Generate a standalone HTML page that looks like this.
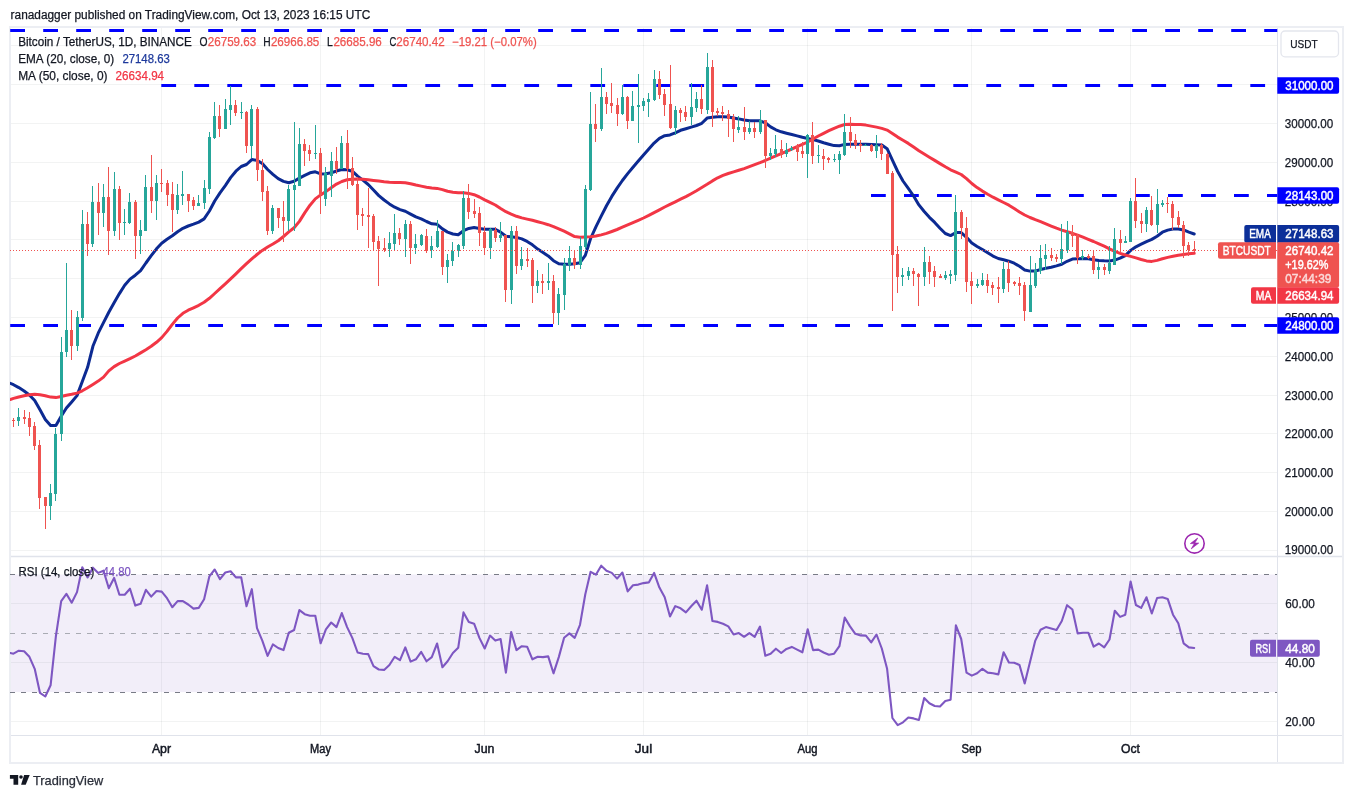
<!DOCTYPE html>
<html lang="en"><head><meta charset="utf-8"><title>BTCUSDT chart</title>
<style>
html,body{margin:0;padding:0;background:#fff;}
body{width:1353px;height:798px;overflow:hidden;font-family:"Liberation Sans",sans-serif;}
svg{display:block;will-change:transform}
text{font-family:"Liberation Sans",sans-serif;}
</style></head><body>
<svg width="1353" height="798" viewBox="0 0 1353 798">
<rect width="1353" height="798" fill="#ffffff"/>

<rect x="10" y="27" width="1333" height="736" fill="#fff" stroke="#eceef3" stroke-width="2"/>
<defs><clipPath id="main"><rect x="10" y="28" width="1267.5" height="528.5"/></clipPath><clipPath id="rsi"><rect x="10" y="556.5" width="1267.5" height="179.0"/></clipPath></defs>
<line x1="161.5" y1="28" x2="161.5" y2="735.5" stroke="#2a2e39" stroke-opacity="0.06" stroke-width="1"/>
<line x1="320.5" y1="28" x2="320.5" y2="735.5" stroke="#2a2e39" stroke-opacity="0.06" stroke-width="1"/>
<line x1="484.5" y1="28" x2="484.5" y2="735.5" stroke="#2a2e39" stroke-opacity="0.06" stroke-width="1"/>
<line x1="643.5" y1="28" x2="643.5" y2="735.5" stroke="#2a2e39" stroke-opacity="0.06" stroke-width="1"/>
<line x1="807.5" y1="28" x2="807.5" y2="735.5" stroke="#2a2e39" stroke-opacity="0.06" stroke-width="1"/>
<line x1="971.5" y1="28" x2="971.5" y2="735.5" stroke="#2a2e39" stroke-opacity="0.06" stroke-width="1"/>
<line x1="1130.5" y1="28" x2="1130.5" y2="735.5" stroke="#2a2e39" stroke-opacity="0.06" stroke-width="1"/>
<line x1="11" y1="550.5" x2="1277.5" y2="550.5" stroke="#2a2e39" stroke-opacity="0.06" stroke-width="1"/>
<line x1="11" y1="511.5" x2="1277.5" y2="511.5" stroke="#2a2e39" stroke-opacity="0.06" stroke-width="1"/>
<line x1="11" y1="472.5" x2="1277.5" y2="472.5" stroke="#2a2e39" stroke-opacity="0.06" stroke-width="1"/>
<line x1="11" y1="433.5" x2="1277.5" y2="433.5" stroke="#2a2e39" stroke-opacity="0.06" stroke-width="1"/>
<line x1="11" y1="395.5" x2="1277.5" y2="395.5" stroke="#2a2e39" stroke-opacity="0.06" stroke-width="1"/>
<line x1="11" y1="356.5" x2="1277.5" y2="356.5" stroke="#2a2e39" stroke-opacity="0.06" stroke-width="1"/>
<line x1="11" y1="317.5" x2="1277.5" y2="317.5" stroke="#2a2e39" stroke-opacity="0.06" stroke-width="1"/>
<line x1="11" y1="278.5" x2="1277.5" y2="278.5" stroke="#2a2e39" stroke-opacity="0.06" stroke-width="1"/>
<line x1="11" y1="239.5" x2="1277.5" y2="239.5" stroke="#2a2e39" stroke-opacity="0.06" stroke-width="1"/>
<line x1="11" y1="201.5" x2="1277.5" y2="201.5" stroke="#2a2e39" stroke-opacity="0.06" stroke-width="1"/>
<line x1="11" y1="162.5" x2="1277.5" y2="162.5" stroke="#2a2e39" stroke-opacity="0.06" stroke-width="1"/>
<line x1="11" y1="123.5" x2="1277.5" y2="123.5" stroke="#2a2e39" stroke-opacity="0.06" stroke-width="1"/>
<line x1="11" y1="84.5" x2="1277.5" y2="84.5" stroke="#2a2e39" stroke-opacity="0.06" stroke-width="1"/>
<line x1="11" y1="45.5" x2="1277.5" y2="45.5" stroke="#2a2e39" stroke-opacity="0.06" stroke-width="1"/>
<rect x="11" y="574.5" width="1266.5" height="117.6" fill="#7e57c2" fill-opacity="0.1"/>
<line x1="11" y1="603.5" x2="1277.5" y2="603.5" stroke="#2a2e39" stroke-opacity="0.06" stroke-width="1"/>
<line x1="11" y1="662.5" x2="1277.5" y2="662.5" stroke="#2a2e39" stroke-opacity="0.06" stroke-width="1"/>
<line x1="11" y1="721.5" x2="1277.5" y2="721.5" stroke="#2a2e39" stroke-opacity="0.06" stroke-width="1"/>
<line x1="10" y1="574.5" x2="1277.5" y2="574.5" stroke="#787b86" stroke-width="1" stroke-dasharray="5 6"/>
<line x1="10" y1="633.5" x2="1277.5" y2="633.5" stroke="#a9abb3" stroke-width="1" stroke-dasharray="5 6"/>
<line x1="10" y1="692.5" x2="1277.5" y2="692.5" stroke="#787b86" stroke-width="1" stroke-dasharray="5 6"/>
<line x1="11" y1="556.5" x2="1342" y2="556.5" stroke="#e0e3eb" stroke-width="1.5"/>
<line x1="11" y1="735.5" x2="1342" y2="735.5" stroke="#e0e3eb" stroke-width="1"/>
<line x1="1277.5" y1="28" x2="1277.5" y2="762" stroke="#e0e3eb" stroke-width="1"/>
<g clip-path="url(#main)">
<line x1="10.2" y1="30.5" x2="1277.5" y2="30.5" stroke="#0000ff" stroke-width="3" stroke-dasharray="14.8 18.2"/>
<line x1="161.3" y1="85.5" x2="1277.5" y2="85.5" stroke="#0000ff" stroke-width="3" stroke-dasharray="14.8 18.2"/>
<line x1="871" y1="195.5" x2="1277.5" y2="195.5" stroke="#0000ff" stroke-width="3" stroke-dasharray="14.8 18.2"/>
<line x1="10.2" y1="325.5" x2="1277.5" y2="325.5" stroke="#0000ff" stroke-width="3" stroke-dasharray="14.8 18.2"/>
<polyline points="10.2,383.3 13.5,384.7 18.8,387.6 24.1,391.0 29.4,395.0 34.7,400.5 40.0,409.8 45.3,419.5 50.6,425.6 55.9,425.5 61.2,416.2 66.4,408.0 71.7,401.9 77.0,395.6 82.3,381.5 87.6,367.3 92.9,346.3 98.2,333.2 103.5,322.6 108.8,312.2 114.1,302.7 119.4,293.6 124.7,285.3 130.0,279.1 135.3,275.2 140.6,270.7 145.9,263.0 151.2,255.7 156.5,248.8 161.7,243.2 167.0,239.3 172.3,235.8 177.6,231.8 182.9,228.3 188.2,226.0 193.5,224.2 198.8,222.1 204.1,218.9 209.4,211.0 214.7,201.0 220.0,192.9 225.3,185.6 230.6,177.6 235.9,171.2 241.2,166.5 246.5,164.5 251.8,159.6 257.0,160.3 262.3,163.6 267.6,169.5 272.9,174.4 278.2,178.7 283.5,181.4 288.8,182.7 294.1,181.3 299.4,178.1 304.7,175.3 310.0,172.8 315.3,171.8 320.6,173.9 325.9,173.7 331.2,172.8 336.5,171.0 341.8,169.5 347.1,169.7 352.3,171.2 357.6,176.1 362.9,180.1 368.2,184.5 373.5,190.0 378.8,195.6 384.1,200.0 389.4,203.9 394.7,207.2 400.0,209.6 405.3,211.2 410.6,214.1 415.9,216.9 421.2,218.8 426.5,221.5 431.8,223.8 437.1,224.3 442.4,228.9 447.6,232.1 452.9,234.0 458.2,234.8 463.5,230.7 468.8,228.4 474.1,227.5 479.4,228.5 484.7,229.3 490.0,229.3 495.3,229.3 500.6,232.1 505.9,236.2 511.2,236.8 516.5,237.4 521.8,238.9 527.1,241.4 532.4,244.8 537.7,249.1 543.0,252.6 548.2,255.9 553.5,260.7 558.8,263.8 564.1,264.2 569.4,264.3 574.7,263.8 580.0,262.7 585.3,255.4 590.6,238.5 595.9,226.9 601.2,216.2 606.5,205.8 611.8,196.4 617.1,188.1 622.4,180.5 627.7,173.6 633.0,167.2 638.3,161.0 643.5,155.1 648.8,149.0 654.1,143.1 659.4,138.4 664.7,135.7 670.0,134.9 675.3,132.8 680.6,130.3 685.9,128.7 691.2,127.1 696.5,125.5 701.8,123.3 707.1,118.1 712.4,117.3 717.7,116.8 723.0,116.7 728.3,117.1 733.6,118.0 738.8,118.9 744.1,120.0 749.4,120.8 754.7,120.8 760.0,120.8 765.3,122.8 770.6,126.9 775.9,129.8 781.2,131.8 786.5,133.2 791.8,134.5 797.1,135.9 802.4,137.3 807.7,138.5 813.0,139.6 818.3,141.0 823.6,142.7 828.9,144.2 834.1,145.6 839.4,145.8 844.7,144.4 850.0,144.2 855.3,144.2 860.6,144.2 865.9,144.3 871.2,144.5 876.5,144.7 881.8,145.1 887.1,148.7 892.4,160.2 897.7,171.5 903.0,181.0 908.3,188.4 913.6,196.0 918.9,204.9 924.2,211.5 929.4,217.3 934.7,222.4 940.0,228.2 945.3,233.5 950.6,235.6 955.9,232.6 961.2,232.6 966.5,237.3 971.8,243.1 977.1,246.5 982.4,249.5 987.7,252.8 993.0,256.1 998.3,258.5 1003.6,259.8 1008.9,261.2 1014.2,263.2 1019.5,266.3 1024.7,270.0 1030.0,271.1 1035.3,271.1 1040.6,269.5 1045.9,268.3 1051.2,267.3 1056.5,265.9 1061.8,264.2 1067.1,261.3 1072.4,259.1 1077.7,258.7 1083.0,258.5 1088.3,258.8 1093.6,259.8 1098.9,260.4 1104.2,260.8 1109.5,260.9 1114.8,260.1 1120.1,258.2 1125.3,255.6 1130.6,250.4 1135.9,246.8 1141.2,244.2 1146.5,241.7 1151.8,239.4 1157.1,236.2 1162.4,232.2 1167.7,230.1 1173.0,229.0 1178.3,229.1 1183.6,229.9 1188.9,232.2 1194.2,234.0" fill="none" stroke="#0c2a92" stroke-width="3" stroke-linejoin="round" stroke-linecap="round"/>
<polyline points="10.2,399.5 13.5,398.4 18.8,397.0 24.1,395.8 29.4,394.7 34.7,394.3 40.0,394.8 45.3,395.7 50.6,397.1 55.9,397.6 61.2,396.5 66.4,395.2 71.7,394.3 77.0,393.1 82.3,390.8 87.6,387.7 92.9,384.4 98.2,381.1 103.5,377.1 108.8,370.9 114.1,366.6 119.4,363.5 124.7,361.1 130.0,358.7 135.3,356.0 140.6,352.9 145.9,349.7 151.2,346.3 156.5,342.3 161.7,337.6 167.0,331.4 172.3,324.4 177.6,318.0 182.9,313.3 188.2,310.2 193.5,307.8 198.8,305.3 204.1,302.3 209.4,298.3 214.7,293.5 220.0,288.7 225.3,283.9 230.6,278.9 235.9,273.8 241.2,268.7 246.5,263.7 251.8,258.9 257.0,254.5 262.3,250.4 267.6,247.0 272.9,244.0 278.2,240.7 283.5,236.5 288.8,231.9 294.1,227.8 299.4,221.4 304.7,212.9 310.0,205.2 315.3,198.9 320.6,194.9 325.9,191.6 331.2,187.8 336.5,184.1 341.8,181.5 347.1,179.8 352.3,179.2 357.6,179.0 362.9,179.3 368.2,179.8 373.5,180.4 378.8,181.1 384.1,181.8 389.4,182.3 394.7,182.4 400.0,182.5 405.3,182.7 410.6,183.7 415.9,185.0 421.2,186.1 426.5,187.2 431.8,187.9 437.1,188.4 442.4,189.6 447.6,191.3 452.9,192.2 458.2,192.7 463.5,192.8 468.8,193.4 474.1,194.7 479.4,197.0 484.7,199.8 490.0,202.4 495.3,205.0 500.6,208.5 505.9,211.7 511.2,214.2 516.5,216.3 521.8,217.9 527.1,219.1 532.4,220.3 537.7,221.7 543.0,223.1 548.2,224.7 553.5,226.6 558.8,228.8 564.1,231.2 569.4,233.8 574.7,236.6 580.0,237.2 585.3,237.0 590.6,236.7 595.9,236.0 601.2,234.9 606.5,233.4 611.8,231.5 617.1,229.5 622.4,227.2 627.7,224.9 633.0,222.6 638.3,220.3 643.5,218.0 648.8,215.4 654.1,212.6 659.4,209.8 664.7,207.0 670.0,204.4 675.3,201.8 680.6,199.2 685.9,196.6 691.2,193.7 696.5,190.7 701.8,187.5 707.1,184.3 712.4,180.9 717.7,177.8 723.0,175.4 728.3,173.5 733.6,171.9 738.8,170.3 744.1,168.6 749.4,166.7 754.7,164.7 760.0,162.7 765.3,160.5 770.6,158.1 775.9,155.9 781.2,153.6 786.5,151.3 791.8,149.0 797.1,146.7 802.4,144.4 807.7,142.0 813.0,139.0 818.3,136.0 823.6,133.3 828.9,130.7 834.1,128.3 839.4,126.2 844.7,124.5 850.0,124.3 855.3,124.4 860.6,124.5 865.9,125.1 871.2,126.1 876.5,127.1 881.8,128.4 887.1,130.1 892.4,133.4 897.7,137.1 903.0,140.2 908.3,143.4 913.6,147.1 918.9,150.8 924.2,154.1 929.4,157.2 934.7,160.4 940.0,163.6 945.3,166.8 950.6,169.8 955.9,172.1 961.2,174.5 966.5,178.6 971.8,183.5 977.1,187.6 982.4,191.1 987.7,194.3 993.0,197.2 998.3,199.9 1003.6,202.5 1008.9,205.2 1014.2,208.5 1019.5,212.0 1024.7,215.0 1030.0,217.5 1035.3,219.7 1040.6,221.7 1045.9,223.9 1051.2,226.1 1056.5,228.2 1061.8,230.1 1067.1,231.7 1072.4,233.3 1077.7,235.2 1083.0,237.2 1088.3,239.3 1093.6,241.5 1098.9,243.9 1104.2,246.2 1109.5,248.9 1114.8,251.4 1120.1,253.4 1125.3,255.0 1130.6,256.4 1135.9,257.9 1141.2,259.5 1146.5,260.9 1151.8,261.4 1157.1,260.4 1162.4,258.8 1167.7,257.4 1173.0,256.2 1178.3,255.2 1183.6,254.5 1188.9,253.8 1194.2,253.3" fill="none" stroke="#f23645" stroke-width="3" stroke-linejoin="round" stroke-linecap="round"/>
<rect x="13" y="418" width="1" height="9" fill="#ef5350"/><rect x="12" y="420" width="3" height="1" fill="#ef5350"/>
<rect x="18" y="408" width="1" height="18" fill="#26a69a"/><rect x="17" y="417" width="3" height="4" fill="#26a69a"/>
<rect x="24" y="410" width="1" height="14" fill="#ef5350"/><rect x="23" y="417" width="3" height="2" fill="#ef5350"/>
<rect x="29" y="412" width="1" height="24" fill="#ef5350"/><rect x="28" y="418" width="3" height="9" fill="#ef5350"/>
<rect x="34" y="422" width="1" height="28" fill="#ef5350"/><rect x="33" y="426" width="3" height="20" fill="#ef5350"/>
<rect x="39" y="440" width="1" height="69" fill="#ef5350"/><rect x="38" y="445" width="3" height="53" fill="#ef5350"/>
<rect x="45" y="497" width="1" height="32" fill="#ef5350"/><rect x="44" y="497" width="3" height="9" fill="#ef5350"/>
<rect x="50" y="484" width="1" height="36" fill="#26a69a"/><rect x="49" y="493" width="3" height="13" fill="#26a69a"/>
<rect x="55" y="428" width="1" height="73" fill="#26a69a"/><rect x="54" y="434" width="3" height="60" fill="#26a69a"/>
<rect x="61" y="337" width="1" height="104" fill="#26a69a"/><rect x="60" y="352" width="3" height="82" fill="#26a69a"/>
<rect x="66" y="263" width="1" height="94" fill="#26a69a"/><rect x="65" y="330" width="3" height="22" fill="#26a69a"/>
<rect x="71" y="310" width="1" height="50" fill="#ef5350"/><rect x="70" y="330" width="3" height="16" fill="#ef5350"/>
<rect x="77" y="311" width="1" height="40" fill="#26a69a"/><rect x="76" y="317" width="3" height="29" fill="#26a69a"/>
<rect x="82" y="210" width="1" height="111" fill="#26a69a"/><rect x="81" y="224" width="3" height="94" fill="#26a69a"/>
<rect x="87" y="212" width="1" height="44" fill="#ef5350"/><rect x="86" y="224" width="3" height="20" fill="#ef5350"/>
<rect x="92" y="186" width="1" height="61" fill="#26a69a"/><rect x="91" y="202" width="3" height="42" fill="#26a69a"/>
<rect x="98" y="183" width="1" height="52" fill="#ef5350"/><rect x="97" y="202" width="3" height="11" fill="#ef5350"/>
<rect x="103" y="184" width="1" height="43" fill="#26a69a"/><rect x="102" y="197" width="3" height="16" fill="#26a69a"/>
<rect x="108" y="167" width="1" height="88" fill="#ef5350"/><rect x="107" y="197" width="3" height="34" fill="#ef5350"/>
<rect x="114" y="172" width="1" height="64" fill="#26a69a"/><rect x="113" y="189" width="3" height="42" fill="#26a69a"/>
<rect x="119" y="186" width="1" height="54" fill="#ef5350"/><rect x="118" y="189" width="3" height="34" fill="#ef5350"/>
<rect x="124" y="209" width="1" height="26" fill="#26a69a"/><rect x="123" y="222" width="3" height="1" fill="#26a69a"/>
<rect x="129" y="193" width="1" height="31" fill="#26a69a"/><rect x="128" y="202" width="3" height="21" fill="#26a69a"/>
<rect x="135" y="200" width="1" height="59" fill="#ef5350"/><rect x="134" y="202" width="3" height="34" fill="#ef5350"/>
<rect x="140" y="220" width="1" height="34" fill="#26a69a"/><rect x="139" y="230" width="3" height="6" fill="#26a69a"/>
<rect x="145" y="175" width="1" height="56" fill="#26a69a"/><rect x="144" y="187" width="3" height="44" fill="#26a69a"/>
<rect x="151" y="155" width="1" height="58" fill="#ef5350"/><rect x="150" y="187" width="3" height="14" fill="#ef5350"/>
<rect x="156" y="175" width="1" height="45" fill="#26a69a"/><rect x="155" y="183" width="3" height="18" fill="#26a69a"/>
<rect x="161" y="169" width="1" height="23" fill="#ef5350"/><rect x="160" y="183" width="3" height="1" fill="#ef5350"/>
<rect x="167" y="180" width="1" height="26" fill="#ef5350"/><rect x="166" y="183" width="3" height="12" fill="#ef5350"/>
<rect x="172" y="182" width="1" height="50" fill="#ef5350"/><rect x="171" y="194" width="3" height="16" fill="#ef5350"/>
<rect x="177" y="184" width="1" height="30" fill="#26a69a"/><rect x="176" y="195" width="3" height="15" fill="#26a69a"/>
<rect x="182" y="171" width="1" height="34" fill="#26a69a"/><rect x="181" y="194" width="3" height="2" fill="#26a69a"/>
<rect x="188" y="194" width="1" height="18" fill="#ef5350"/><rect x="187" y="194" width="3" height="7" fill="#ef5350"/>
<rect x="193" y="197" width="1" height="13" fill="#ef5350"/><rect x="192" y="200" width="3" height="6" fill="#ef5350"/>
<rect x="198" y="195" width="1" height="11" fill="#26a69a"/><rect x="197" y="203" width="3" height="3" fill="#26a69a"/>
<rect x="204" y="180" width="1" height="29" fill="#26a69a"/><rect x="203" y="188" width="3" height="15" fill="#26a69a"/>
<rect x="209" y="132" width="1" height="62" fill="#26a69a"/><rect x="208" y="137" width="3" height="52" fill="#26a69a"/>
<rect x="214" y="102" width="1" height="37" fill="#26a69a"/><rect x="213" y="116" width="3" height="22" fill="#26a69a"/>
<rect x="219" y="105" width="1" height="32" fill="#ef5350"/><rect x="218" y="116" width="3" height="13" fill="#ef5350"/>
<rect x="225" y="99" width="1" height="30" fill="#26a69a"/><rect x="224" y="109" width="3" height="20" fill="#26a69a"/>
<rect x="230" y="86" width="1" height="39" fill="#26a69a"/><rect x="229" y="105" width="3" height="5" fill="#26a69a"/>
<rect x="235" y="100" width="1" height="16" fill="#ef5350"/><rect x="234" y="105" width="3" height="8" fill="#ef5350"/>
<rect x="241" y="102" width="1" height="17" fill="#26a69a"/><rect x="240" y="112" width="3" height="1" fill="#26a69a"/>
<rect x="246" y="111" width="1" height="42" fill="#ef5350"/><rect x="245" y="112" width="3" height="34" fill="#ef5350"/>
<rect x="251" y="105" width="1" height="53" fill="#26a69a"/><rect x="250" y="109" width="3" height="37" fill="#26a69a"/>
<rect x="257" y="107" width="1" height="74" fill="#ef5350"/><rect x="256" y="109" width="3" height="61" fill="#ef5350"/>
<rect x="262" y="159" width="1" height="42" fill="#ef5350"/><rect x="261" y="170" width="3" height="22" fill="#ef5350"/>
<rect x="267" y="186" width="1" height="49" fill="#ef5350"/><rect x="266" y="191" width="3" height="40" fill="#ef5350"/>
<rect x="272" y="205" width="1" height="29" fill="#26a69a"/><rect x="271" y="208" width="3" height="23" fill="#26a69a"/>
<rect x="278" y="208" width="1" height="20" fill="#ef5350"/><rect x="277" y="208" width="3" height="10" fill="#ef5350"/>
<rect x="283" y="201" width="1" height="41" fill="#ef5350"/><rect x="282" y="217" width="3" height="4" fill="#ef5350"/>
<rect x="288" y="185" width="1" height="46" fill="#26a69a"/><rect x="287" y="189" width="3" height="32" fill="#26a69a"/>
<rect x="294" y="122" width="1" height="109" fill="#26a69a"/><rect x="293" y="185" width="3" height="5" fill="#26a69a"/>
<rect x="299" y="128" width="1" height="58" fill="#26a69a"/><rect x="298" y="144" width="3" height="42" fill="#26a69a"/>
<rect x="304" y="139" width="1" height="27" fill="#ef5350"/><rect x="303" y="144" width="3" height="7" fill="#ef5350"/>
<rect x="309" y="145" width="1" height="16" fill="#ef5350"/><rect x="308" y="150" width="3" height="4" fill="#ef5350"/>
<rect x="315" y="125" width="1" height="34" fill="#26a69a"/><rect x="314" y="153" width="3" height="1" fill="#26a69a"/>
<rect x="320" y="148" width="1" height="66" fill="#ef5350"/><rect x="319" y="153" width="3" height="42" fill="#ef5350"/>
<rect x="325" y="167" width="1" height="39" fill="#26a69a"/><rect x="324" y="173" width="3" height="26" fill="#26a69a"/>
<rect x="331" y="152" width="1" height="45" fill="#26a69a"/><rect x="330" y="161" width="3" height="15" fill="#26a69a"/>
<rect x="336" y="147" width="1" height="27" fill="#ef5350"/><rect x="335" y="161" width="3" height="8" fill="#ef5350"/>
<rect x="341" y="136" width="1" height="33" fill="#26a69a"/><rect x="340" y="143" width="3" height="26" fill="#26a69a"/>
<rect x="347" y="130" width="1" height="59" fill="#ef5350"/><rect x="346" y="143" width="3" height="26" fill="#ef5350"/>
<rect x="352" y="157" width="1" height="29" fill="#ef5350"/><rect x="351" y="168" width="3" height="17" fill="#ef5350"/>
<rect x="357" y="177" width="1" height="53" fill="#ef5350"/><rect x="356" y="184" width="3" height="31" fill="#ef5350"/>
<rect x="362" y="208" width="1" height="18" fill="#ef5350"/><rect x="361" y="214" width="3" height="2" fill="#ef5350"/>
<rect x="368" y="188" width="1" height="60" fill="#ef5350"/><rect x="367" y="215" width="3" height="2" fill="#ef5350"/>
<rect x="373" y="214" width="1" height="36" fill="#ef5350"/><rect x="372" y="216" width="3" height="26" fill="#ef5350"/>
<rect x="378" y="236" width="1" height="50" fill="#ef5350"/><rect x="377" y="241" width="3" height="8" fill="#ef5350"/>
<rect x="384" y="238" width="1" height="14" fill="#ef5350"/><rect x="383" y="248" width="3" height="2" fill="#ef5350"/>
<rect x="389" y="232" width="1" height="25" fill="#26a69a"/><rect x="388" y="243" width="3" height="6" fill="#26a69a"/>
<rect x="394" y="214" width="1" height="37" fill="#26a69a"/><rect x="393" y="233" width="3" height="11" fill="#26a69a"/>
<rect x="399" y="228" width="1" height="17" fill="#ef5350"/><rect x="398" y="233" width="3" height="6" fill="#ef5350"/>
<rect x="405" y="220" width="1" height="37" fill="#26a69a"/><rect x="404" y="224" width="3" height="15" fill="#26a69a"/>
<rect x="410" y="221" width="1" height="43" fill="#ef5350"/><rect x="409" y="224" width="3" height="24" fill="#ef5350"/>
<rect x="415" y="234" width="1" height="20" fill="#26a69a"/><rect x="414" y="244" width="3" height="4" fill="#26a69a"/>
<rect x="421" y="234" width="1" height="12" fill="#26a69a"/><rect x="420" y="235" width="3" height="10" fill="#26a69a"/>
<rect x="426" y="229" width="1" height="24" fill="#ef5350"/><rect x="425" y="236" width="3" height="15" fill="#ef5350"/>
<rect x="431" y="236" width="1" height="22" fill="#26a69a"/><rect x="430" y="246" width="3" height="4" fill="#26a69a"/>
<rect x="437" y="220" width="1" height="28" fill="#26a69a"/><rect x="436" y="231" width="3" height="16" fill="#26a69a"/>
<rect x="442" y="231" width="1" height="44" fill="#ef5350"/><rect x="441" y="231" width="3" height="36" fill="#ef5350"/>
<rect x="447" y="254" width="1" height="29" fill="#26a69a"/><rect x="446" y="260" width="3" height="7" fill="#26a69a"/>
<rect x="452" y="242" width="1" height="24" fill="#26a69a"/><rect x="451" y="251" width="3" height="10" fill="#26a69a"/>
<rect x="458" y="244" width="1" height="13" fill="#26a69a"/><rect x="457" y="245" width="3" height="6" fill="#26a69a"/>
<rect x="463" y="191" width="1" height="58" fill="#26a69a"/><rect x="462" y="198" width="3" height="48" fill="#26a69a"/>
<rect x="468" y="184" width="1" height="35" fill="#ef5350"/><rect x="467" y="198" width="3" height="14" fill="#ef5350"/>
<rect x="474" y="199" width="1" height="19" fill="#ef5350"/><rect x="473" y="211" width="3" height="3" fill="#ef5350"/>
<rect x="479" y="207" width="1" height="39" fill="#ef5350"/><rect x="478" y="213" width="3" height="20" fill="#ef5350"/>
<rect x="484" y="226" width="1" height="29" fill="#ef5350"/><rect x="483" y="232" width="3" height="16" fill="#ef5350"/>
<rect x="490" y="228" width="1" height="31" fill="#26a69a"/><rect x="489" y="229" width="3" height="19" fill="#26a69a"/>
<rect x="495" y="227" width="1" height="15" fill="#ef5350"/><rect x="494" y="230" width="3" height="8" fill="#ef5350"/>
<rect x="500" y="222" width="1" height="20" fill="#26a69a"/><rect x="499" y="235" width="3" height="3" fill="#26a69a"/>
<rect x="505" y="235" width="1" height="67" fill="#ef5350"/><rect x="504" y="235" width="3" height="55" fill="#ef5350"/>
<rect x="511" y="226" width="1" height="78" fill="#26a69a"/><rect x="510" y="231" width="3" height="59" fill="#26a69a"/>
<rect x="516" y="226" width="1" height="48" fill="#ef5350"/><rect x="515" y="231" width="3" height="35" fill="#ef5350"/>
<rect x="521" y="247" width="1" height="23" fill="#26a69a"/><rect x="520" y="259" width="3" height="7" fill="#26a69a"/>
<rect x="527" y="248" width="1" height="19" fill="#ef5350"/><rect x="526" y="259" width="3" height="2" fill="#ef5350"/>
<rect x="532" y="258" width="1" height="45" fill="#ef5350"/><rect x="531" y="260" width="3" height="26" fill="#ef5350"/>
<rect x="537" y="270" width="1" height="23" fill="#26a69a"/><rect x="536" y="281" width="3" height="5" fill="#26a69a"/>
<rect x="542" y="274" width="1" height="20" fill="#ef5350"/><rect x="541" y="281" width="3" height="2" fill="#ef5350"/>
<rect x="548" y="263" width="1" height="27" fill="#26a69a"/><rect x="547" y="281" width="3" height="2" fill="#26a69a"/>
<rect x="553" y="275" width="1" height="49" fill="#ef5350"/><rect x="552" y="281" width="3" height="32" fill="#ef5350"/>
<rect x="558" y="288" width="1" height="37" fill="#26a69a"/><rect x="557" y="294" width="3" height="19" fill="#26a69a"/>
<rect x="564" y="258" width="1" height="52" fill="#26a69a"/><rect x="563" y="264" width="3" height="31" fill="#26a69a"/>
<rect x="569" y="246" width="1" height="25" fill="#26a69a"/><rect x="568" y="258" width="3" height="7" fill="#26a69a"/>
<rect x="574" y="250" width="1" height="19" fill="#ef5350"/><rect x="573" y="258" width="3" height="7" fill="#ef5350"/>
<rect x="580" y="237" width="1" height="32" fill="#26a69a"/><rect x="579" y="246" width="3" height="19" fill="#26a69a"/>
<rect x="585" y="185" width="1" height="64" fill="#26a69a"/><rect x="584" y="189" width="3" height="58" fill="#26a69a"/>
<rect x="590" y="92" width="1" height="99" fill="#26a69a"/><rect x="589" y="124" width="3" height="66" fill="#26a69a"/>
<rect x="595" y="104" width="1" height="38" fill="#ef5350"/><rect x="594" y="124" width="3" height="5" fill="#ef5350"/>
<rect x="601" y="68" width="1" height="63" fill="#26a69a"/><rect x="600" y="97" width="3" height="32" fill="#26a69a"/>
<rect x="606" y="92" width="1" height="22" fill="#ef5350"/><rect x="605" y="97" width="3" height="7" fill="#ef5350"/>
<rect x="611" y="83" width="1" height="30" fill="#ef5350"/><rect x="610" y="103" width="3" height="3" fill="#ef5350"/>
<rect x="617" y="98" width="1" height="28" fill="#ef5350"/><rect x="616" y="105" width="3" height="9" fill="#ef5350"/>
<rect x="622" y="85" width="1" height="30" fill="#26a69a"/><rect x="621" y="97" width="3" height="17" fill="#26a69a"/>
<rect x="627" y="96" width="1" height="33" fill="#ef5350"/><rect x="626" y="97" width="3" height="24" fill="#ef5350"/>
<rect x="632" y="91" width="1" height="30" fill="#26a69a"/><rect x="631" y="106" width="3" height="15" fill="#26a69a"/>
<rect x="638" y="74" width="1" height="69" fill="#26a69a"/><rect x="637" y="105" width="3" height="2" fill="#26a69a"/>
<rect x="643" y="98" width="1" height="13" fill="#26a69a"/><rect x="642" y="101" width="3" height="5" fill="#26a69a"/>
<rect x="648" y="93" width="1" height="24" fill="#26a69a"/><rect x="647" y="99" width="3" height="3" fill="#26a69a"/>
<rect x="654" y="70" width="1" height="31" fill="#26a69a"/><rect x="653" y="79" width="3" height="21" fill="#26a69a"/>
<rect x="659" y="71" width="1" height="28" fill="#ef5350"/><rect x="658" y="79" width="3" height="16" fill="#ef5350"/>
<rect x="664" y="89" width="1" height="27" fill="#ef5350"/><rect x="663" y="94" width="3" height="11" fill="#ef5350"/>
<rect x="670" y="65" width="1" height="64" fill="#ef5350"/><rect x="669" y="104" width="3" height="24" fill="#ef5350"/>
<rect x="675" y="106" width="1" height="29" fill="#26a69a"/><rect x="674" y="110" width="3" height="18" fill="#26a69a"/>
<rect x="680" y="108" width="1" height="14" fill="#ef5350"/><rect x="679" y="110" width="3" height="3" fill="#ef5350"/>
<rect x="685" y="106" width="1" height="15" fill="#ef5350"/><rect x="684" y="112" width="3" height="5" fill="#ef5350"/>
<rect x="691" y="83" width="1" height="42" fill="#26a69a"/><rect x="690" y="107" width="3" height="10" fill="#26a69a"/>
<rect x="696" y="92" width="1" height="20" fill="#26a69a"/><rect x="695" y="99" width="3" height="9" fill="#26a69a"/>
<rect x="701" y="85" width="1" height="29" fill="#ef5350"/><rect x="700" y="99" width="3" height="10" fill="#ef5350"/>
<rect x="707" y="53" width="1" height="61" fill="#26a69a"/><rect x="706" y="67" width="3" height="43" fill="#26a69a"/>
<rect x="712" y="60" width="1" height="67" fill="#ef5350"/><rect x="711" y="67" width="3" height="45" fill="#ef5350"/>
<rect x="717" y="108" width="1" height="8" fill="#ef5350"/><rect x="716" y="111" width="3" height="2" fill="#ef5350"/>
<rect x="722" y="106" width="1" height="15" fill="#ef5350"/><rect x="721" y="112" width="3" height="2" fill="#ef5350"/>
<rect x="728" y="110" width="1" height="27" fill="#ef5350"/><rect x="727" y="114" width="3" height="5" fill="#ef5350"/>
<rect x="733" y="114" width="1" height="28" fill="#ef5350"/><rect x="732" y="117" width="3" height="12" fill="#ef5350"/>
<rect x="738" y="116" width="1" height="17" fill="#26a69a"/><rect x="737" y="127" width="3" height="3" fill="#26a69a"/>
<rect x="744" y="107" width="1" height="33" fill="#ef5350"/><rect x="743" y="127" width="3" height="5" fill="#ef5350"/>
<rect x="749" y="121" width="1" height="13" fill="#26a69a"/><rect x="748" y="128" width="3" height="4" fill="#26a69a"/>
<rect x="754" y="122" width="1" height="16" fill="#ef5350"/><rect x="753" y="128" width="3" height="4" fill="#ef5350"/>
<rect x="760" y="110" width="1" height="24" fill="#26a69a"/><rect x="759" y="120" width="3" height="12" fill="#26a69a"/>
<rect x="765" y="120" width="1" height="48" fill="#ef5350"/><rect x="764" y="120" width="3" height="36" fill="#ef5350"/>
<rect x="770" y="148" width="1" height="12" fill="#26a69a"/><rect x="769" y="153" width="3" height="3" fill="#26a69a"/>
<rect x="775" y="135" width="1" height="22" fill="#26a69a"/><rect x="774" y="149" width="3" height="5" fill="#26a69a"/>
<rect x="781" y="140" width="1" height="18" fill="#ef5350"/><rect x="780" y="149" width="3" height="6" fill="#ef5350"/>
<rect x="786" y="143" width="1" height="14" fill="#26a69a"/><rect x="785" y="150" width="3" height="4" fill="#26a69a"/>
<rect x="791" y="146" width="1" height="5" fill="#26a69a"/><rect x="790" y="148" width="3" height="2" fill="#26a69a"/>
<rect x="797" y="144" width="1" height="17" fill="#ef5350"/><rect x="796" y="146" width="3" height="6" fill="#ef5350"/>
<rect x="802" y="142" width="1" height="16" fill="#ef5350"/><rect x="801" y="151" width="3" height="3" fill="#ef5350"/>
<rect x="807" y="134" width="1" height="44" fill="#26a69a"/><rect x="806" y="135" width="3" height="19" fill="#26a69a"/>
<rect x="812" y="122" width="1" height="42" fill="#ef5350"/><rect x="811" y="135" width="3" height="21" fill="#ef5350"/>
<rect x="818" y="145" width="1" height="18" fill="#26a69a"/><rect x="817" y="155" width="3" height="1" fill="#26a69a"/>
<rect x="823" y="149" width="1" height="21" fill="#ef5350"/><rect x="822" y="156" width="3" height="3" fill="#ef5350"/>
<rect x="828" y="157" width="1" height="6" fill="#ef5350"/><rect x="827" y="158" width="3" height="2" fill="#ef5350"/>
<rect x="834" y="154" width="1" height="8" fill="#26a69a"/><rect x="833" y="159" width="3" height="1" fill="#26a69a"/>
<rect x="839" y="151" width="1" height="23" fill="#26a69a"/><rect x="838" y="154" width="3" height="6" fill="#26a69a"/>
<rect x="844" y="114" width="1" height="42" fill="#26a69a"/><rect x="843" y="132" width="3" height="23" fill="#26a69a"/>
<rect x="850" y="117" width="1" height="31" fill="#ef5350"/><rect x="849" y="132" width="3" height="9" fill="#ef5350"/>
<rect x="855" y="134" width="1" height="15" fill="#ef5350"/><rect x="854" y="140" width="3" height="5" fill="#ef5350"/>
<rect x="860" y="140" width="1" height="12" fill="#ef5350"/><rect x="859" y="144" width="3" height="2" fill="#ef5350"/>
<rect x="865" y="144" width="1" height="2" fill="#26a69a"/><rect x="864" y="145" width="3" height="1" fill="#26a69a"/>
<rect x="871" y="144" width="1" height="8" fill="#ef5350"/><rect x="870" y="145" width="3" height="6" fill="#ef5350"/>
<rect x="876" y="135" width="1" height="23" fill="#26a69a"/><rect x="875" y="145" width="3" height="6" fill="#26a69a"/>
<rect x="881" y="143" width="1" height="17" fill="#ef5350"/><rect x="880" y="145" width="3" height="9" fill="#ef5350"/>
<rect x="887" y="153" width="1" height="21" fill="#ef5350"/><rect x="886" y="154" width="3" height="20" fill="#ef5350"/>
<rect x="892" y="171" width="1" height="140" fill="#ef5350"/><rect x="891" y="173" width="3" height="82" fill="#ef5350"/>
<rect x="897" y="246" width="1" height="47" fill="#ef5350"/><rect x="896" y="254" width="3" height="23" fill="#ef5350"/>
<rect x="902" y="268" width="1" height="18" fill="#26a69a"/><rect x="901" y="275" width="3" height="2" fill="#26a69a"/>
<rect x="908" y="267" width="1" height="13" fill="#26a69a"/><rect x="907" y="271" width="3" height="5" fill="#26a69a"/>
<rect x="913" y="268" width="1" height="18" fill="#ef5350"/><rect x="912" y="271" width="3" height="3" fill="#ef5350"/>
<rect x="918" y="273" width="1" height="33" fill="#ef5350"/><rect x="917" y="274" width="3" height="3" fill="#ef5350"/>
<rect x="924" y="247" width="1" height="39" fill="#26a69a"/><rect x="923" y="262" width="3" height="15" fill="#26a69a"/>
<rect x="929" y="256" width="1" height="28" fill="#ef5350"/><rect x="928" y="262" width="3" height="10" fill="#ef5350"/>
<rect x="934" y="266" width="1" height="21" fill="#ef5350"/><rect x="933" y="271" width="3" height="6" fill="#ef5350"/>
<rect x="940" y="274" width="1" height="4" fill="#ef5350"/><rect x="939" y="276" width="3" height="2" fill="#ef5350"/>
<rect x="945" y="271" width="1" height="9" fill="#26a69a"/><rect x="944" y="275" width="3" height="3" fill="#26a69a"/>
<rect x="950" y="270" width="1" height="14" fill="#26a69a"/><rect x="949" y="274" width="3" height="2" fill="#26a69a"/>
<rect x="955" y="195" width="1" height="86" fill="#26a69a"/><rect x="954" y="212" width="3" height="63" fill="#26a69a"/>
<rect x="961" y="210" width="1" height="29" fill="#ef5350"/><rect x="960" y="212" width="3" height="16" fill="#ef5350"/>
<rect x="966" y="217" width="1" height="75" fill="#ef5350"/><rect x="965" y="228" width="3" height="54" fill="#ef5350"/>
<rect x="971" y="272" width="1" height="32" fill="#ef5350"/><rect x="970" y="281" width="3" height="5" fill="#ef5350"/>
<rect x="977" y="279" width="1" height="9" fill="#26a69a"/><rect x="976" y="284" width="3" height="2" fill="#26a69a"/>
<rect x="982" y="273" width="1" height="13" fill="#26a69a"/><rect x="981" y="280" width="3" height="5" fill="#26a69a"/>
<rect x="987" y="274" width="1" height="19" fill="#ef5350"/><rect x="986" y="280" width="3" height="6" fill="#ef5350"/>
<rect x="992" y="282" width="1" height="13" fill="#ef5350"/><rect x="991" y="285" width="3" height="3" fill="#ef5350"/>
<rect x="998" y="277" width="1" height="26" fill="#ef5350"/><rect x="997" y="287" width="3" height="2" fill="#ef5350"/>
<rect x="1003" y="262" width="1" height="31" fill="#26a69a"/><rect x="1002" y="269" width="3" height="20" fill="#26a69a"/>
<rect x="1008" y="261" width="1" height="31" fill="#ef5350"/><rect x="1007" y="269" width="3" height="14" fill="#ef5350"/>
<rect x="1014" y="281" width="1" height="5" fill="#ef5350"/><rect x="1013" y="282" width="3" height="2" fill="#ef5350"/>
<rect x="1019" y="277" width="1" height="18" fill="#ef5350"/><rect x="1018" y="283" width="3" height="3" fill="#ef5350"/>
<rect x="1024" y="282" width="1" height="39" fill="#ef5350"/><rect x="1023" y="285" width="3" height="26" fill="#ef5350"/>
<rect x="1030" y="256" width="1" height="56" fill="#26a69a"/><rect x="1029" y="285" width="3" height="27" fill="#26a69a"/>
<rect x="1035" y="263" width="1" height="25" fill="#26a69a"/><rect x="1034" y="270" width="3" height="16" fill="#26a69a"/>
<rect x="1040" y="245" width="1" height="29" fill="#26a69a"/><rect x="1039" y="258" width="3" height="13" fill="#26a69a"/>
<rect x="1045" y="244" width="1" height="26" fill="#26a69a"/><rect x="1044" y="255" width="3" height="4" fill="#26a69a"/>
<rect x="1051" y="248" width="1" height="13" fill="#ef5350"/><rect x="1050" y="255" width="3" height="3" fill="#ef5350"/>
<rect x="1056" y="254" width="1" height="8" fill="#ef5350"/><rect x="1055" y="257" width="3" height="2" fill="#ef5350"/>
<rect x="1061" y="224" width="1" height="40" fill="#26a69a"/><rect x="1060" y="249" width="3" height="10" fill="#26a69a"/>
<rect x="1067" y="221" width="1" height="32" fill="#26a69a"/><rect x="1066" y="232" width="3" height="18" fill="#26a69a"/>
<rect x="1072" y="225" width="1" height="22" fill="#ef5350"/><rect x="1071" y="232" width="3" height="4" fill="#ef5350"/>
<rect x="1077" y="234" width="1" height="30" fill="#ef5350"/><rect x="1076" y="235" width="3" height="23" fill="#ef5350"/>
<rect x="1082" y="250" width="1" height="10" fill="#26a69a"/><rect x="1081" y="256" width="3" height="2" fill="#26a69a"/>
<rect x="1088" y="254" width="1" height="5" fill="#ef5350"/><rect x="1087" y="256" width="3" height="2" fill="#ef5350"/>
<rect x="1093" y="250" width="1" height="24" fill="#ef5350"/><rect x="1092" y="256" width="3" height="14" fill="#ef5350"/>
<rect x="1098" y="262" width="1" height="17" fill="#26a69a"/><rect x="1097" y="267" width="3" height="3" fill="#26a69a"/>
<rect x="1104" y="264" width="1" height="11" fill="#ef5350"/><rect x="1103" y="267" width="3" height="3" fill="#ef5350"/>
<rect x="1109" y="246" width="1" height="28" fill="#26a69a"/><rect x="1108" y="263" width="3" height="8" fill="#26a69a"/>
<rect x="1114" y="228" width="1" height="37" fill="#26a69a"/><rect x="1113" y="239" width="3" height="26" fill="#26a69a"/>
<rect x="1120" y="230" width="1" height="22" fill="#ef5350"/><rect x="1119" y="239" width="3" height="4" fill="#ef5350"/>
<rect x="1125" y="236" width="1" height="7" fill="#26a69a"/><rect x="1124" y="241" width="3" height="2" fill="#26a69a"/>
<rect x="1130" y="198" width="1" height="44" fill="#26a69a"/><rect x="1129" y="201" width="3" height="41" fill="#26a69a"/>
<rect x="1135" y="178" width="1" height="50" fill="#ef5350"/><rect x="1134" y="201" width="3" height="20" fill="#ef5350"/>
<rect x="1141" y="213" width="1" height="20" fill="#ef5350"/><rect x="1140" y="221" width="3" height="3" fill="#ef5350"/>
<rect x="1146" y="207" width="1" height="25" fill="#26a69a"/><rect x="1145" y="210" width="3" height="14" fill="#26a69a"/>
<rect x="1151" y="196" width="1" height="30" fill="#ef5350"/><rect x="1150" y="210" width="3" height="15" fill="#ef5350"/>
<rect x="1157" y="189" width="1" height="44" fill="#26a69a"/><rect x="1156" y="204" width="3" height="21" fill="#26a69a"/>
<rect x="1162" y="200" width="1" height="7" fill="#26a69a"/><rect x="1161" y="203" width="3" height="2" fill="#26a69a"/>
<rect x="1167" y="197" width="1" height="16" fill="#ef5350"/><rect x="1166" y="203" width="3" height="1" fill="#ef5350"/>
<rect x="1172" y="201" width="1" height="29" fill="#ef5350"/><rect x="1171" y="204" width="3" height="14" fill="#ef5350"/>
<rect x="1178" y="211" width="1" height="17" fill="#ef5350"/><rect x="1177" y="217" width="3" height="8" fill="#ef5350"/>
<rect x="1183" y="221" width="1" height="37" fill="#ef5350"/><rect x="1182" y="225" width="3" height="21" fill="#ef5350"/>
<rect x="1188" y="242" width="1" height="14" fill="#ef5350"/><rect x="1187" y="245" width="3" height="5" fill="#ef5350"/>
<rect x="1194" y="241" width="1" height="11" fill="#ef5350"/><rect x="1193" y="249" width="3" height="2" fill="#ef5350"/>
<line x1="10" y1="250.5" x2="1277.5" y2="250.5" stroke="#ef5350" stroke-width="1" stroke-dasharray="1 2"/>
</g>
<g clip-path="url(#rsi)"><polyline points="10.2,653.0 13.5,653.7 18.8,650.7 24.1,651.2 29.4,656.8 34.7,668.8 40.0,692.9 45.3,696.5 50.6,685.3 55.9,636.1 61.2,601.1 66.4,593.9 71.7,602.7 77.0,592.1 82.3,567.3 87.6,577.4 92.9,567.7 98.2,572.9 103.5,570.7 108.8,588.3 114.1,577.9 119.4,594.8 124.7,594.8 130.0,588.7 135.3,605.6 140.6,603.8 145.9,589.8 151.2,596.6 156.5,591.0 161.7,591.6 167.0,598.2 172.3,607.2 177.6,601.1 182.9,601.1 188.2,604.5 193.5,608.6 198.8,607.9 204.1,599.3 209.4,576.3 214.7,569.5 220.0,579.2 225.3,572.5 230.6,571.3 235.9,577.4 241.2,577.4 246.5,606.3 251.8,589.2 257.0,628.2 262.3,640.6 267.6,655.9 272.9,644.4 278.2,648.0 283.5,650.1 288.8,632.7 294.1,630.0 299.4,610.1 304.7,614.2 310.0,615.8 315.3,615.8 320.6,643.3 325.9,629.3 331.2,622.5 336.5,627.1 341.8,613.1 347.1,627.1 352.3,637.9 357.6,652.5 362.9,653.7 368.2,654.1 373.5,666.1 378.8,669.5 384.1,669.9 389.4,665.0 394.7,656.8 400.0,660.2 405.3,647.4 410.6,661.6 415.9,659.3 421.2,651.9 426.5,661.3 431.8,657.1 437.1,643.5 442.4,667.2 447.6,661.3 452.9,653.0 458.2,647.8 463.5,612.4 468.8,622.1 474.1,623.7 479.4,637.9 484.7,648.5 490.0,635.6 495.3,640.6 500.6,639.0 505.9,672.6 511.2,632.0 516.5,650.1 521.8,646.2 527.1,646.7 532.4,659.3 537.7,656.8 543.0,657.1 548.2,656.4 553.5,673.3 558.8,657.1 564.1,637.7 569.4,633.4 574.7,637.9 580.0,624.8 585.3,594.3 590.6,571.8 595.9,574.7 601.2,565.7 606.5,570.7 611.8,572.9 617.1,578.6 622.4,572.5 627.7,591.4 633.0,585.3 638.3,584.6 643.5,583.1 648.8,582.4 654.1,572.9 659.4,587.6 664.7,597.3 670.0,616.5 675.3,606.1 680.6,608.3 685.9,612.4 691.2,606.3 696.5,600.7 701.8,609.7 707.1,585.3 712.4,621.0 717.7,621.9 723.0,623.7 728.3,626.4 733.6,634.5 738.8,633.1 744.1,636.8 749.4,633.1 754.7,636.8 760.0,626.6 765.3,655.7 770.6,653.7 775.9,648.7 781.2,653.0 786.5,648.9 791.8,646.9 797.1,649.6 802.4,652.3 807.7,629.3 813.0,650.1 818.3,649.6 823.6,652.5 828.9,654.8 834.1,653.7 839.4,646.2 844.7,617.6 850.0,626.4 855.3,633.8 860.6,635.4 865.9,635.6 871.2,642.4 876.5,634.5 881.8,648.5 887.1,668.8 892.4,718.0 897.7,725.2 903.0,722.3 908.3,717.5 913.6,718.4 918.9,720.0 924.2,698.1 929.4,703.3 934.7,706.0 940.0,706.5 945.3,701.0 950.6,699.7 955.9,625.3 961.2,639.0 966.5,672.6 971.8,675.6 977.1,673.3 982.4,668.8 987.7,672.6 993.0,673.3 998.3,674.4 1003.6,652.3 1008.9,662.5 1014.2,662.7 1019.5,665.0 1024.7,683.5 1030.0,662.0 1035.3,640.6 1040.6,629.8 1045.9,627.1 1051.2,628.6 1056.5,630.0 1061.8,621.0 1067.1,605.2 1072.4,609.5 1077.7,633.4 1083.0,632.7 1088.3,632.7 1093.6,646.7 1098.9,643.5 1104.2,647.4 1109.5,639.5 1114.8,610.8 1120.1,616.9 1125.3,614.7 1130.6,581.5 1135.9,605.0 1141.2,607.9 1146.5,597.3 1151.8,613.5 1157.1,598.0 1162.4,597.3 1167.7,598.9 1173.0,614.7 1178.3,623.2 1183.6,643.3 1188.9,647.4 1194.2,648.0" fill="none" stroke="#7e57c2" stroke-width="2.1" stroke-linejoin="round" stroke-linecap="round"/></g>
<text x="10.6" y="18.8" font-size="12" fill="#131722" stroke="#131722" stroke-width="0.25" textLength="359.6" lengthAdjust="spacingAndGlyphs">ranadagger published on TradingView.com, Oct 13, 2023 16:15 UTC</text>
<text x="18.2" y="45.5" font-size="12" fill="#131722" stroke="#131722" stroke-width="0.25" textLength="173.6" lengthAdjust="spacingAndGlyphs">Bitcoin / TetherUS, 1D, BINANCE</text>
<text x="199.5" y="45.5" font-size="12" fill="#131722" stroke="#131722" stroke-width="0.25" textLength="8.0" lengthAdjust="spacingAndGlyphs">O</text>
<text x="207.8" y="45.5" font-size="12" fill="#ef5350" stroke="#ef5350" stroke-width="0.25" textLength="48.4" lengthAdjust="spacingAndGlyphs">26759.63</text>
<text x="263.3" y="45.5" font-size="12" fill="#131722" stroke="#131722" stroke-width="0.25" textLength="7.4" lengthAdjust="spacingAndGlyphs">H</text>
<text x="270.9" y="45.5" font-size="12" fill="#ef5350" stroke="#ef5350" stroke-width="0.25" textLength="48.4" lengthAdjust="spacingAndGlyphs">26966.85</text>
<text x="327" y="45.5" font-size="12" fill="#131722" stroke="#131722" stroke-width="0.25" textLength="5.8" lengthAdjust="spacingAndGlyphs">L</text>
<text x="333.4" y="45.5" font-size="12" fill="#ef5350" stroke="#ef5350" stroke-width="0.25" textLength="48.4" lengthAdjust="spacingAndGlyphs">26685.96</text>
<text x="389.4" y="45.5" font-size="12" fill="#131722" stroke="#131722" stroke-width="0.25" textLength="6.8" lengthAdjust="spacingAndGlyphs">C</text>
<text x="396.3" y="45.5" font-size="12" fill="#ef5350" stroke="#ef5350" stroke-width="0.25" textLength="48.4" lengthAdjust="spacingAndGlyphs">26740.42</text>
<text x="452" y="45.5" font-size="12" fill="#ef5350" stroke="#ef5350" stroke-width="0.25" textLength="84.7" lengthAdjust="spacingAndGlyphs">−19.21 (−0.07%)</text>
<text x="18.2" y="62.7" font-size="12" fill="#131722" stroke="#131722" stroke-width="0.25" textLength="96" lengthAdjust="spacingAndGlyphs">EMA (20, close, 0)</text>
<text x="122.4" y="62.7" font-size="12" fill="#1e3a9c" stroke="#1e3a9c" stroke-width="0.25" textLength="47.4" lengthAdjust="spacingAndGlyphs">27148.63</text>
<text x="18.2" y="79.8" font-size="12" fill="#131722" stroke="#131722" stroke-width="0.25" textLength="89.3" lengthAdjust="spacingAndGlyphs">MA (50, close, 0)</text>
<text x="115.6" y="79.8" font-size="12" fill="#f23645" stroke="#f23645" stroke-width="0.25" textLength="48.5" lengthAdjust="spacingAndGlyphs">26634.94</text>
<text x="18.6" y="575.7" font-size="12" fill="#131722" stroke="#131722" stroke-width="0.25" textLength="75.6" lengthAdjust="spacingAndGlyphs">RSI (14, close)</text>
<text x="102.6" y="575.7" font-size="12" fill="#7e57c2" stroke="#7e57c2" stroke-width="0.25" textLength="28.2" lengthAdjust="spacingAndGlyphs">44.80</text>
<text x="1284.8" y="553.8" font-size="12" fill="#131722" stroke="#131722" stroke-width="0.25" textLength="48.5" lengthAdjust="spacingAndGlyphs">19000.00</text>
<text x="1284.8" y="515.8" font-size="12" fill="#131722" stroke="#131722" stroke-width="0.25" textLength="48.5" lengthAdjust="spacingAndGlyphs">20000.00</text>
<text x="1284.8" y="476.8" font-size="12" fill="#131722" stroke="#131722" stroke-width="0.25" textLength="48.5" lengthAdjust="spacingAndGlyphs">21000.00</text>
<text x="1284.8" y="437.8" font-size="12" fill="#131722" stroke="#131722" stroke-width="0.25" textLength="48.5" lengthAdjust="spacingAndGlyphs">22000.00</text>
<text x="1284.8" y="399.8" font-size="12" fill="#131722" stroke="#131722" stroke-width="0.25" textLength="48.5" lengthAdjust="spacingAndGlyphs">23000.00</text>
<text x="1284.8" y="360.8" font-size="12" fill="#131722" stroke="#131722" stroke-width="0.25" textLength="48.5" lengthAdjust="spacingAndGlyphs">24000.00</text>
<text x="1284.8" y="321.8" font-size="12" fill="#131722" stroke="#131722" stroke-width="0.25" textLength="48.5" lengthAdjust="spacingAndGlyphs">25000.00</text>
<text x="1284.8" y="282.8" font-size="12" fill="#131722" stroke="#131722" stroke-width="0.25" textLength="48.5" lengthAdjust="spacingAndGlyphs">26000.00</text>
<text x="1284.8" y="205.8" font-size="12" fill="#131722" stroke="#131722" stroke-width="0.25" textLength="48.5" lengthAdjust="spacingAndGlyphs">28000.00</text>
<text x="1284.8" y="166.8" font-size="12" fill="#131722" stroke="#131722" stroke-width="0.25" textLength="48.5" lengthAdjust="spacingAndGlyphs">29000.00</text>
<text x="1284.8" y="127.8" font-size="12" fill="#131722" stroke="#131722" stroke-width="0.25" textLength="48.5" lengthAdjust="spacingAndGlyphs">30000.00</text>
<text x="1285.3" y="607.8" font-size="12" fill="#131722" stroke="#131722" stroke-width="0.25" textLength="29.5" lengthAdjust="spacingAndGlyphs">60.00</text>
<text x="1285.3" y="666.8" font-size="12" fill="#131722" stroke="#131722" stroke-width="0.25" textLength="29.5" lengthAdjust="spacingAndGlyphs">40.00</text>
<text x="1285.3" y="725.8" font-size="12" fill="#131722" stroke="#131722" stroke-width="0.25" textLength="29.5" lengthAdjust="spacingAndGlyphs">20.00</text>
<rect x="1281" y="31" width="57.5" height="25.8" rx="4" fill="#fff" stroke="#e4e6ed" stroke-width="1.3"/>
<text x="1290.3" y="48.3" font-size="11.5" fill="#131722" stroke="#131722" stroke-width="0.25" textLength="27.4" lengthAdjust="spacingAndGlyphs">USDT</text>
<path d="M1277.3,77.2 H1337.1 Q1339.1,77.2 1339.1,79.2 V91.8 Q1339.1,93.8 1337.1,93.8 H1277.3 Z" fill="#0000ff"/><text x="1285.3" y="90.0" font-size="12" fill="#ffffff" stroke="#ffffff" stroke-width="0.45" textLength="48.2" lengthAdjust="spacingAndGlyphs">31000.00</text>
<path d="M1277.3,187.2 H1337.1 Q1339.1,187.2 1339.1,189.2 V201.8 Q1339.1,203.8 1337.1,203.8 H1277.3 Z" fill="#0000ff"/><text x="1285.3" y="200.0" font-size="12" fill="#ffffff" stroke="#ffffff" stroke-width="0.45" textLength="48.2" lengthAdjust="spacingAndGlyphs">28143.00</text>
<path d="M1277.3,317.2 H1337.1 Q1339.1,317.2 1339.1,319.2 V331.8 Q1339.1,333.8 1337.1,333.8 H1277.3 Z" fill="#0000ff"/><text x="1285.3" y="330.0" font-size="12" fill="#ffffff" stroke="#ffffff" stroke-width="0.45" textLength="48.2" lengthAdjust="spacingAndGlyphs">24800.00</text>
<path d="M1276,225 H1246.3 Q1244.3,225 1244.3,227 V240.8 Q1244.3,242.8 1246.3,242.8 H1276 Z" fill="#0c2f99"/><text x="1249.2" y="238" font-size="12" fill="#ffffff" stroke="#ffffff" stroke-width="0.45" textLength="21.6" lengthAdjust="spacingAndGlyphs">EMA</text>
<path d="M1277.3,225 H1337.1 Q1339.1,225 1339.1,227 V240.8 Q1339.1,242.8 1337.1,242.8 H1277.3 Z" fill="#0c2f99"/><text x="1285.3" y="238" font-size="12" fill="#ffffff" stroke="#ffffff" stroke-width="0.45" textLength="48.2" lengthAdjust="spacingAndGlyphs">27148.63</text>
<path d="M1276,242.2 H1220 Q1218,242.2 1218,244.2 V256.8 Q1218,258.8 1220,258.8 H1276 Z" fill="#ef5350"/><text x="1222.8" y="255.2" font-size="12" fill="#ffffff" stroke="#ffffff" stroke-width="0.45" textLength="48" lengthAdjust="spacingAndGlyphs">BTCUSDT</text>
<path d="M1277.3,242.2 H1337.1 Q1339.1,242.2 1339.1,244.2 V285.6 Q1339.1,287.6 1337.1,287.6 H1277.3 Z" fill="#ef5350"/>
<text x="1285.3" y="255.2" font-size="12" fill="#ffffff" stroke="#ffffff" stroke-width="0.45" textLength="48.2" lengthAdjust="spacingAndGlyphs">26740.42</text>
<text x="1285.3" y="269.4" font-size="12" fill="#ffffff" stroke="#ffffff" stroke-width="0.45" textLength="43" lengthAdjust="spacingAndGlyphs">+19.62%</text>
<text x="1285.3" y="283" font-size="12" fill="#fbdad9" stroke="#fbdad9" stroke-width="0.45" textLength="46" lengthAdjust="spacingAndGlyphs">07:44:39</text>
<path d="M1276,287.2 H1253 Q1251,287.2 1251,289.2 V301.7 Q1251,303.7 1253,303.7 H1276 Z" fill="#f23645"/><text x="1255.8" y="300" font-size="12" fill="#ffffff" stroke="#ffffff" stroke-width="0.45" textLength="15.5" lengthAdjust="spacingAndGlyphs">MA</text>
<path d="M1277.3,287.2 H1337.1 Q1339.1,287.2 1339.1,289.2 V301.7 Q1339.1,303.7 1337.1,303.7 H1277.3 Z" fill="#f23645"/><text x="1285.3" y="300" font-size="12" fill="#ffffff" stroke="#ffffff" stroke-width="0.45" textLength="48.2" lengthAdjust="spacingAndGlyphs">26634.94</text>
<path d="M1276,639.8 H1252 Q1250,639.8 1250,641.8 V654.7 Q1250,656.7 1252,656.7 H1276 Z" fill="#7e57c2"/><text x="1255.4" y="652.7" font-size="12" fill="#ffffff" stroke="#ffffff" stroke-width="0.45" textLength="15.3" lengthAdjust="spacingAndGlyphs">RSI</text>
<path d="M1277.3,639.8 H1317.8 Q1319.8,639.8 1319.8,641.8 V654.7 Q1319.8,656.7 1317.8,656.7 H1277.3 Z" fill="#7e57c2"/><text x="1285.3" y="652.7" font-size="12" fill="#ffffff" stroke="#ffffff" stroke-width="0.45" textLength="29.5" lengthAdjust="spacingAndGlyphs">44.80</text>
<text x="151.9" y="752.8" font-size="12" fill="#131722" stroke="#131722" stroke-width="0.45" textLength="19.2" lengthAdjust="spacingAndGlyphs">Apr</text>
<text x="310.1" y="752.8" font-size="12" fill="#131722" stroke="#131722" stroke-width="0.45" textLength="20.8" lengthAdjust="spacingAndGlyphs">May</text>
<text x="474.5" y="752.8" font-size="12" fill="#131722" stroke="#131722" stroke-width="0.45" textLength="20" lengthAdjust="spacingAndGlyphs">Jun</text>
<text x="634.85" y="752.8" font-size="12" fill="#131722" stroke="#131722" stroke-width="0.45" textLength="17.3" lengthAdjust="spacingAndGlyphs">Jul</text>
<text x="797.5" y="752.8" font-size="12" fill="#131722" stroke="#131722" stroke-width="0.45" textLength="20" lengthAdjust="spacingAndGlyphs">Aug</text>
<text x="961.5" y="752.8" font-size="12" fill="#131722" stroke="#131722" stroke-width="0.45" textLength="20" lengthAdjust="spacingAndGlyphs">Sep</text>
<text x="1121.05" y="752.8" font-size="12" fill="#131722" stroke="#131722" stroke-width="0.45" textLength="18.9" lengthAdjust="spacingAndGlyphs">Oct</text>
<circle cx="1194.5" cy="543.4" r="9.7" fill="#fff" stroke="#9c27b0" stroke-width="1.6"/>
<path d="M1197.65,538.1 L1190.4,543.6 L1194.4,543.6 L1191.3,548.8 L1198.7,543.1 L1194.8,543.1 Z" fill="#9c27b0" stroke="#9c27b0" stroke-width="0.7" stroke-linejoin="round"/>
<path d="M9.9,775.1 H18.2 V784.8 H13.5 V778.7 H9.9 Z" fill="#131722"/>
<circle cx="21.0" cy="777.0" r="1.8" fill="#131722"/>
<path d="M24.1,775.1 H29.7 L25.7,784.8 H21.1 Z" fill="#131722"/>
<text x="33" y="784.8" font-size="13" fill="#2a2e39" stroke="#2a2e39" stroke-width="0.25" textLength="70.3" lengthAdjust="spacingAndGlyphs">TradingView</text>
</svg></body></html>
